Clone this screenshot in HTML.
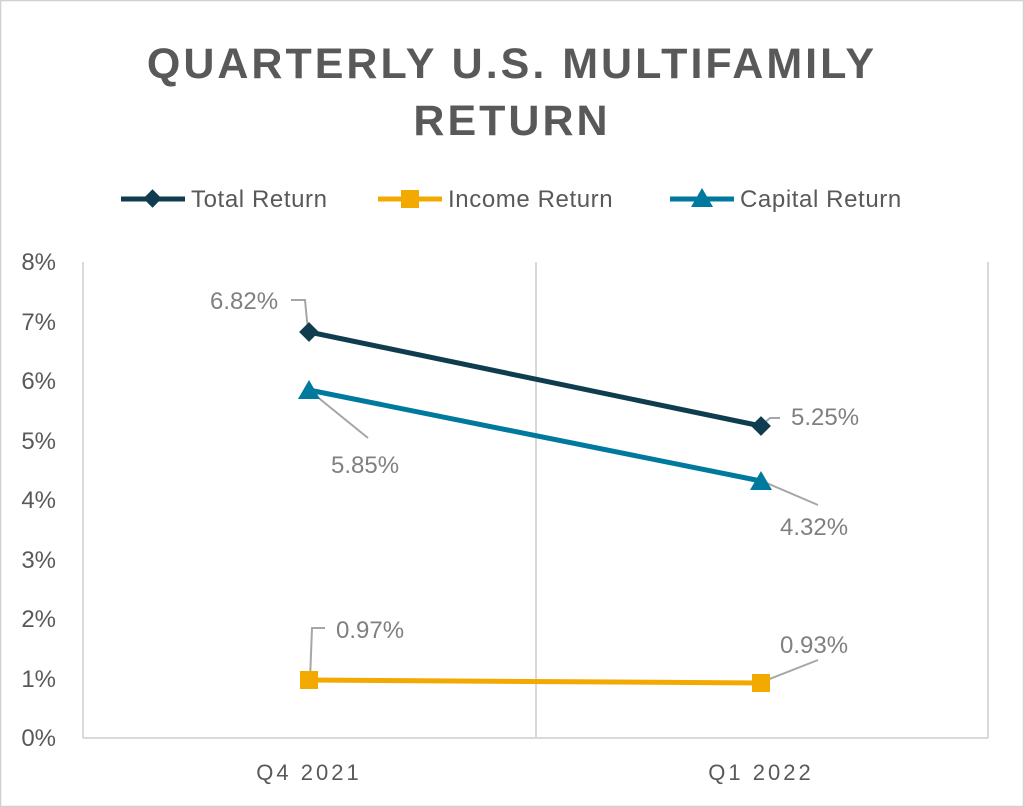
<!DOCTYPE html>
<html><head><style>
body{margin:0;background:#fff;}
svg{display:block;}
text{font-family:"Liberation Sans",sans-serif;}
</style></head><body>
<svg width="1024" height="807" viewBox="0 0 1024 807">
<rect x="0.5" y="0.5" width="1023" height="806" fill="#fff" stroke="#d0d0d0" stroke-width="1.5"/>
<text x="512" y="78" text-anchor="middle" font-size="43" font-weight="bold" fill="#595959" letter-spacing="3">QUARTERLY U.S. MULTIFAMILY</text>
<text x="512" y="135" text-anchor="middle" font-size="43" font-weight="bold" fill="#595959" letter-spacing="3">RETURN</text>
<!-- legend -->
<line x1="121" y1="199" x2="185" y2="199" stroke="#0f3d4f" stroke-width="5"/>
<rect x="146" y="192" width="13" height="13" fill="#0f3d4f" transform="rotate(45 152.5 198.5)"/>
<text x="191" y="207" font-size="24" fill="#595959" letter-spacing="0.6">Total Return</text>
<line x1="378" y1="199" x2="442" y2="199" stroke="#f2a900" stroke-width="5"/>
<rect x="401" y="190" width="18" height="18" fill="#f2a900"/>
<text x="448" y="207" font-size="24" fill="#595959" letter-spacing="0.6">Income Return</text>
<line x1="670" y1="199" x2="734" y2="199" stroke="#00799e" stroke-width="5"/>
<polygon points="702,188 713,207 691,207" fill="#00799e"/>
<text x="740" y="207" font-size="24" fill="#595959" letter-spacing="0.6">Capital Return</text>
<!-- axes -->
<line x1="83" y1="262" x2="83" y2="738" stroke="#d9d9d9" stroke-width="2"/>
<line x1="536" y1="262" x2="536" y2="738" stroke="#d9d9d9" stroke-width="2"/>
<line x1="988" y1="262" x2="988" y2="738" stroke="#d9d9d9" stroke-width="2"/>
<line x1="83" y1="738" x2="988" y2="738" stroke="#d9d9d9" stroke-width="2"/>
<g font-size="24" fill="#595959" text-anchor="end">
<text x="56" y="270">8%</text><text x="56" y="330">7%</text><text x="56" y="389">6%</text>
<text x="56" y="449">5%</text><text x="56" y="508">4%</text><text x="56" y="568">3%</text>
<text x="56" y="627">2%</text><text x="56" y="687">1%</text><text x="56" y="746">0%</text>
</g>
<g font-size="22" fill="#595959" text-anchor="middle" letter-spacing="3">
<text x="309" y="780">Q4 2021</text><text x="761" y="780">Q1 2022</text>
</g>
<!-- leader lines -->
<g stroke="#a6a6a6" stroke-width="2" fill="none">
<polyline points="291,300 305,300 308,331"/>
<polyline points="310,391 368,438"/>
<polyline points="762,425 770,418 780,418"/>
<polyline points="762,481 818,505"/>
<polyline points="310,680 312,628 325,628"/>
<polyline points="762,682 818,660"/>
</g>
<!-- series -->
<line x1="309" y1="332" x2="761" y2="426" stroke="#0f3d4f" stroke-width="5"/>
<line x1="309" y1="390" x2="761" y2="481" stroke="#00799e" stroke-width="5"/>
<line x1="309" y1="680" x2="761" y2="683" stroke="#f2a900" stroke-width="5"/>
<rect x="302" y="325" width="14" height="14" fill="#0f3d4f" transform="rotate(45 309 332)"/>
<rect x="754" y="419" width="14" height="14" fill="#0f3d4f" transform="rotate(45 761 426)"/>
<polygon points="309,380 320,399 298,399" fill="#00799e"/>
<polygon points="761,471 772,490 750,490" fill="#00799e"/>
<rect x="300" y="671" width="18" height="18" fill="#f2a900"/>
<rect x="752" y="674" width="18" height="18" fill="#f2a900"/>
<g font-size="24" fill="#808080">
<text x="210" y="309">6.82%</text>
<text x="331" y="473">5.85%</text>
<text x="791" y="425">5.25%</text>
<text x="780" y="535">4.32%</text>
<text x="336" y="638">0.97%</text>
<text x="780" y="653">0.93%</text>
</g>
</svg>
</body></html>
